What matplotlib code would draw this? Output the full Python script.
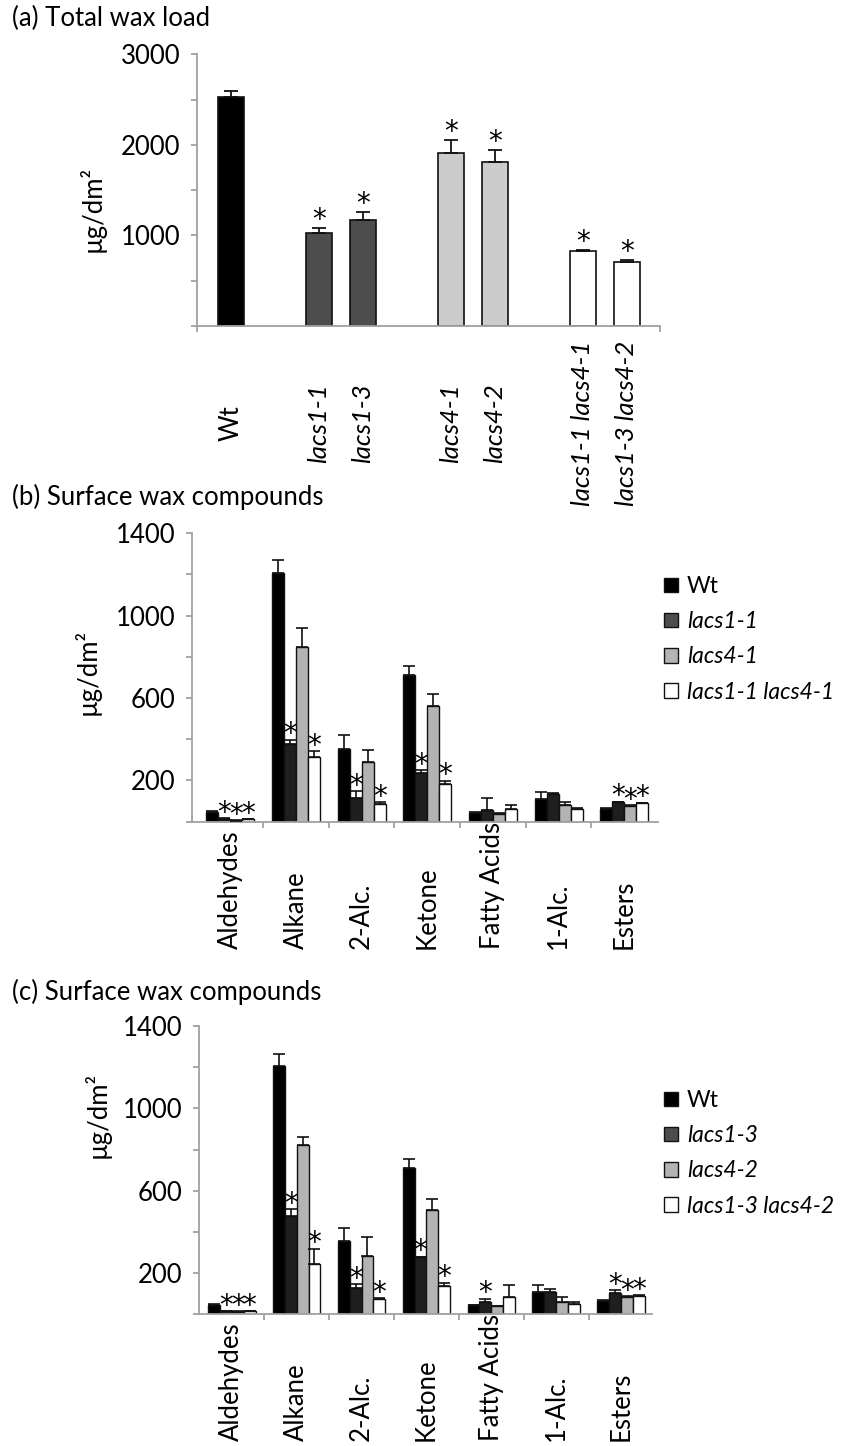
import matplotlib
matplotlib.use("Agg")
import matplotlib.pyplot as plt
from matplotlib.patches import Patch

plt.rcParams['font.family'] = ['Lato', 'DejaVu Sans']

# ---- (a) total wax load, lines grouped by genotype family ----
total_groups = [['Wt'], ['lacs1-1', 'lacs1-3'], ['lacs4-1', 'lacs4-2'],
                ['lacs1-1 lacs4-1', 'lacs1-3 lacs4-2']]
total_load = [2530, 1030, 1175, 1915, 1810, 825, 705]
total_err = [70, 50, 80, 135, 130, 12, 28]
total_sig = [0, 1, 1, 1, 1, 1, 1]
total_yticks = [0, 500, 1000, 1500, 2000, 2500, 3000]
total_ylabels = [1000, 2000, 3000]

# ---- (b), (c) wax compound classes ----
compounds = ['Aldehydes', 'Alkane', '2-Alc.', 'Ketone', 'Fatty Acids', '1-Alc.', 'Esters']

series_b = ['Wt', 'lacs1-1', 'lacs4-1', 'lacs1-1 lacs4-1']
wt_b = [48, 1209, 354, 712, 44, 110, 62]
wt_b_err = [5, 60, 67, 44, 4, 32, 3]
l11_b = [15, 375, 113, 238, 57, 134, 94]
l11_b_err = [2, 23, 34, 13, 58, 4, 3]
l41_b = [5, 848, 290, 563, 39, 79, 78]
l41_b_err = [2, 91, 56, 57, 2, 16, 3]
dbl_b = [11, 312, 84, 181, 63, 63, 91]
dbl_b_err = [3, 31, 11, 18, 16, 2, 2]
sig_b = [[0] * 7, [1, 1, 1, 1, 0, 0, 1], [1, 0, 0, 0, 0, 0, 1], [1, 1, 1, 1, 0, 0, 1]]

series_c = ['Wt', 'lacs1-3', 'lacs4-2', 'lacs1-3 lacs4-2']
wt_c = [47, 1204, 354, 709, 44, 108, 66]
wt_c_err = [3, 62, 67, 45, 3, 33, 3]
l13_c = [15, 479, 126, 277, 62, 108, 102]
l13_c_err = [2, 32, 21, 3, 14, 17, 14]
l42_c = [13, 822, 285, 508, 39, 60, 82]
l42_c_err = [2, 39, 90, 52, 2, 24, 6]
dbl_c = [15, 244, 73, 138, 86, 50, 90]
dbl_c_err = [2, 75, 6, 16, 55, 10, 4]
sig_c = [[0] * 7, [1, 1, 1, 1, 1, 0, 1], [1, 0, 0, 0, 0, 0, 1], [1, 1, 1, 1, 0, 0, 1]]

comp_yticks = [0, 200, 400, 600, 800, 1000, 1200, 1400]
comp_ylabels = [200, 600, 1000, 1400]

AXIS_GREY = '#a0a0a0'
FS = 18.5
LEG_FS = 16.5
W, H = 843, 1446

fig = plt.figure(figsize=(W / 100, H / 100), dpi=100)


def px_axes(left, top, right, bottom):
    return fig.add_axes([left / W, 1 - bottom / H, (right - left) / W, (bottom - top) / H])


def style_axes(ax, yticks, ylabels):
    for s in ('top', 'right'):
        ax.spines[s].set_visible(False)
    for s in ('left', 'bottom'):
        ax.spines[s].set_color(AXIS_GREY)
        ax.spines[s].set_linewidth(1.3)
    ax.set_yticks(yticks)
    ax.set_yticklabels([str(v) if v in ylabels else '' for v in yticks], fontsize=FS)
    ax.set_ylim(yticks[0], yticks[-1])
    ax.tick_params(axis='y', length=4, width=1.3, color=AXIS_GREY, pad=8)
    ax.tick_params(axis='x', which='minor', length=4, width=1.3, color=AXIS_GREY)


def star(ax, x, y, size, dy=0):
    ax.annotate('*', (x, y), xytext=(0, dy), textcoords='offset points',
                ha='center', va='baseline', fontsize=size, family='DejaVu Sans')


# ---- panel (a) ----
fig.text(12 / W, 1 - 18 / H, '(a) Total wax load', fontsize=FS, va='center')
ax_a = px_axes(197, 54.3, 660, 326)
group_colors = ['#000000', '#4d4d4d', '#cccccc', '#ffffff']
xs, names, cols = [], [], []
pos = 0
for g, members in enumerate(total_groups):
    for name in members:
        xs.append(pos)
        names.append(name)
        cols.append(group_colors[g])
        pos += 1
    pos += 1
ax_a.bar(xs, total_load, width=0.6, color=cols, edgecolor='#111111', linewidth=1.2, zorder=2)
ax_a.errorbar(xs, total_load, yerr=[[0] * len(total_err), total_err], fmt='none',
              ecolor='#111111', elinewidth=1.3, capsize=5, capthick=1.3, zorder=3)
for x, v, e, s in zip(xs, total_load, total_err, total_sig):
    if s:
        star(ax_a, x, v + e, 20, dy=0)
ax_a.set_xlim(-0.77, 9.75)
style_axes(ax_a, total_yticks, total_ylabels)
ax_a.set_xticks(xs)
ax_a.set_xticklabels(names, rotation=90, va='center', fontsize=FS)
for lbl in ax_a.get_xticklabels():
    lbl.set_style('normal' if lbl.get_text() == 'Wt' else 'italic')
ax_a.tick_params(axis='x', which='major', length=0, pad=70)
ax_a.set_xticks([-0.77, 9.75], minor=True)
ax_a.set_ylabel('µg/dm²', fontsize=FS, va='center')
ax_a.yaxis.set_label_coords(-0.227, 0.43)


# ---- panels (b) and (c) ----
bar_colors = ['#000000', '#1f1f1f', '#b3b3b3', '#ffffff']
legend_colors = ['#000000', '#4d4d4d', '#b3b3b3', '#ffffff']


def compound_panel(title, title_y, box, xlim, series, values, errors, sig, label_pad,
                   ylabel_y, legend_top):
    fig.text(12 / W, 1 - title_y / H, title, fontsize=FS, va='center')
    ax = px_axes(*box)
    w = 0.183
    idx = list(range(len(compounds)))
    for k, (vals, errs) in enumerate(zip(values, errors)):
        xk = [i + (k - 1.5) * w for i in idx]
        ax.bar(xk, vals, width=w, color=bar_colors[k], edgecolor='#111111',
               linewidth=1.0, zorder=2)
        ax.errorbar(xk, vals, yerr=[[0] * len(errs), errs], fmt='none', ecolor='#111111',
                    elinewidth=1.2, capsize=4, capthick=1.2, zorder=3)
        for x, v, e, s in zip(xk, vals, errs, sig[k]):
            if s:
                star(ax, x, v + e, 20, dy=-2)
    ax.set_xlim(*xlim)
    style_axes(ax, comp_yticks, comp_ylabels)
    ax.set_xticks(idx)
    ax.set_xticklabels(compounds, rotation=90, va='bottom', fontsize=FS)
    ax.tick_params(axis='x', which='major', length=0, pad=label_pad)
    ax.set_xticks([i + 0.5 for i in idx[:-1]], minor=True)
    ax.set_ylabel('µg/dm²', fontsize=FS, va='center')
    ax.yaxis.set_label_coords(-0.225, ylabel_y)

    handles = [Patch(facecolor=c, edgecolor='#111111', linewidth=1.0) for c in legend_colors]
    leg = fig.legend(handles, series, loc='upper left', bbox_to_anchor=(664 / W, 1 - legend_top / H),
                     frameon=False, fontsize=LEG_FS, handlelength=0.6, handleheight=0.6,
                     handletextpad=0.4, labelspacing=0.62, borderpad=0, borderaxespad=0)
    for t in leg.get_texts():
        t.set_style('normal' if t.get_text() == 'Wt' else 'italic')
    return ax


compound_panel('(b) Surface wax compounds', 497, (192.3, 533.3, 657.7, 821.7), (-0.58, 6.51),
               series_b, [wt_b, l11_b, l41_b, dbl_b],
               [wt_b_err, l11_b_err, l41_b_err, dbl_b_err], sig_b, 92, 0.52, 576)

compound_panel('(c) Surface wax compounds', 992, (199.3, 1026, 652.3, 1314.3), (-0.5, 6.48),
               series_c, [wt_c, l13_c, l42_c, dbl_c],
               [wt_c_err, l13_c_err, l42_c_err, dbl_c_err], sig_c, 91, 0.69, 1090)

fig.savefig('out.png', dpi=100)
